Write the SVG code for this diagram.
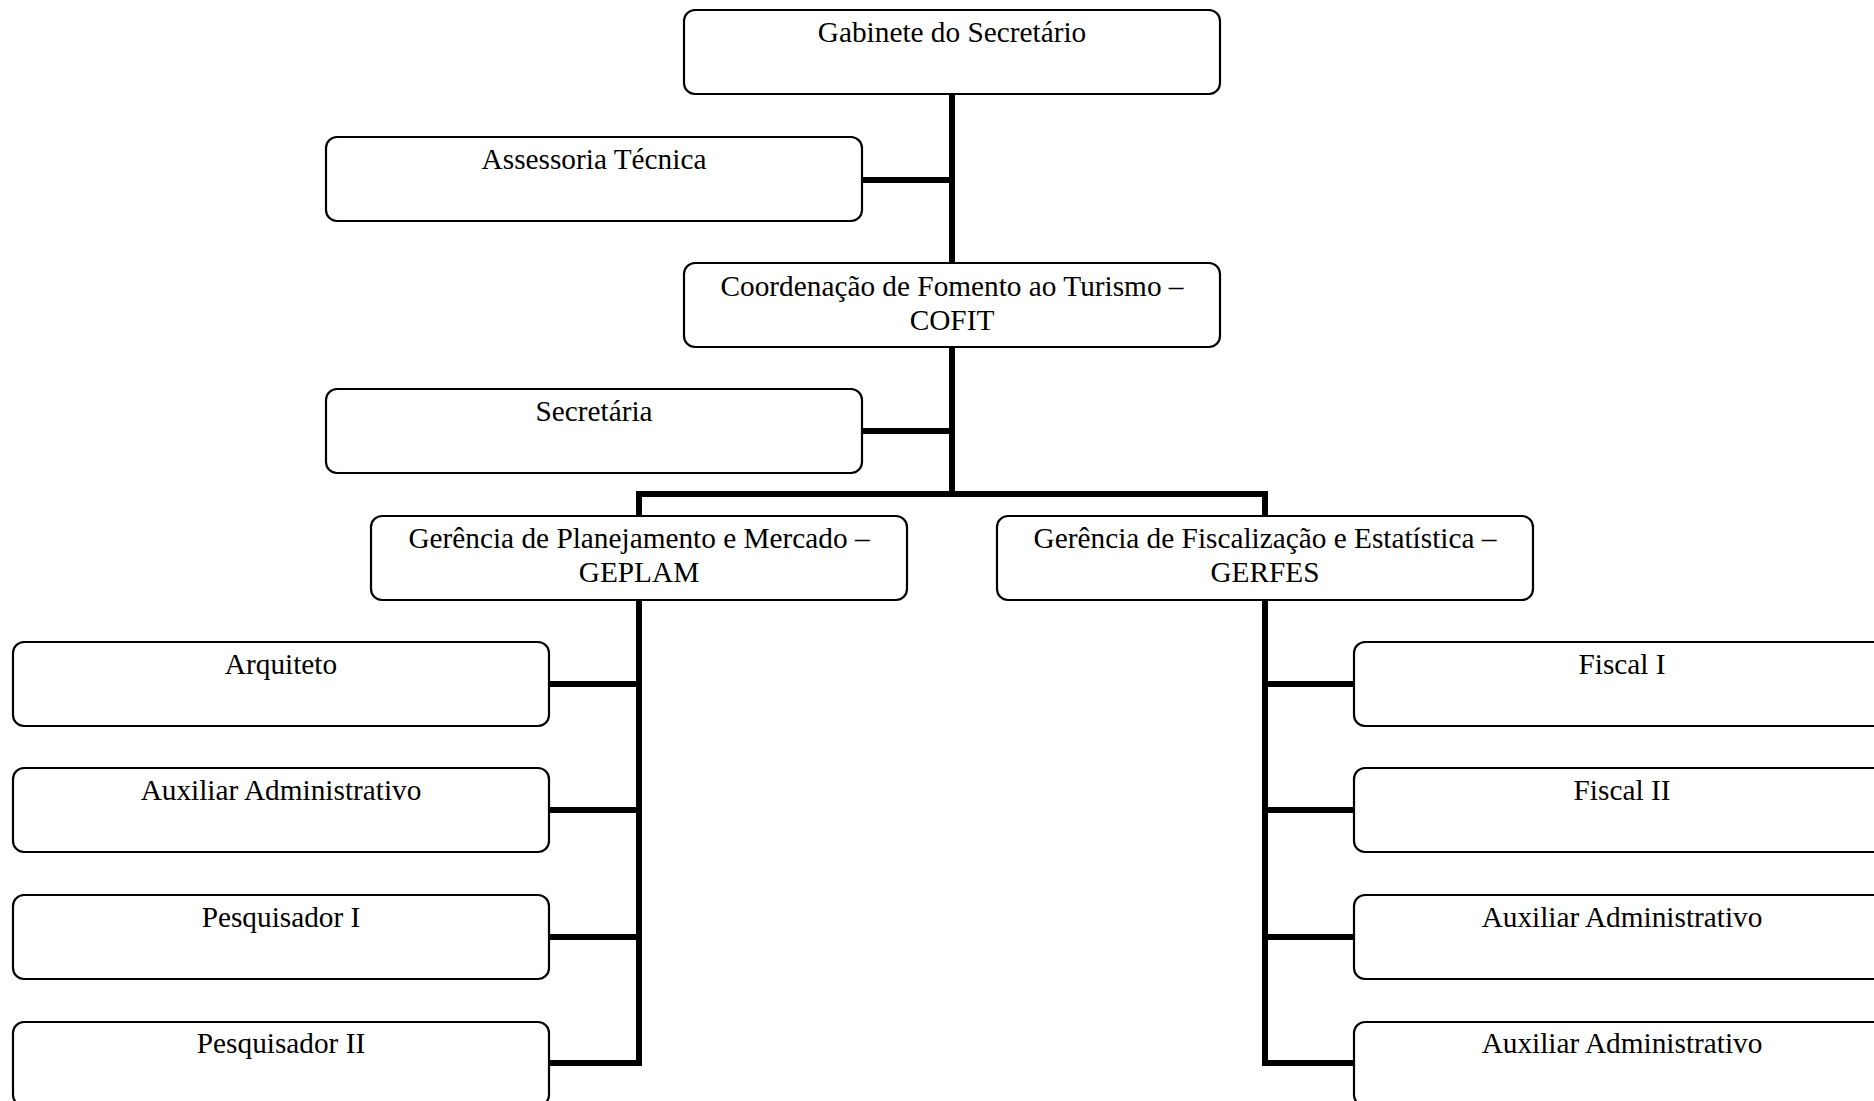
<svg xmlns="http://www.w3.org/2000/svg" width="1874" height="1101" viewBox="0 0 1874 1101">
<style>
.box{fill:#fff;stroke:#000;stroke-width:2.2}
.t{font-family:"Liberation Serif","Times New Roman",serif;font-size:29.3px;fill:#000;text-anchor:middle}
.c{stroke:#000;stroke-width:6;fill:none}
</style>
<rect width="1874" height="1101" fill="#fff"/>
<g id="connectors">
<line class="c" x1="952" y1="94" x2="952" y2="263"/>
<line class="c" x1="862" y1="180" x2="952" y2="180"/>
<line class="c" x1="952" y1="347" x2="952" y2="494"/>
<line class="c" x1="862" y1="431" x2="952" y2="431"/>
<polyline class="c" points="639,516 639,494 1265,494 1265,516"/>
<polyline class="c" points="639,600 639,1063 550,1063"/>
<line class="c" x1="550" y1="684" x2="639" y2="684"/>
<line class="c" x1="550" y1="810" x2="639" y2="810"/>
<line class="c" x1="550" y1="937" x2="639" y2="937"/>
<polyline class="c" points="1265,600 1265,1063 1354,1063"/>
<line class="c" x1="1265" y1="684" x2="1354" y2="684"/>
<line class="c" x1="1265" y1="810" x2="1354" y2="810"/>
<line class="c" x1="1265" y1="937" x2="1354" y2="937"/>
</g>
<g id="gabinete"><rect class="box" x="684" y="10" width="536" height="84" rx="11"/><text class="t" x="952" y="42">Gabinete do Secretário</text></g>
<g id="assessoria"><rect class="box" x="326" y="137" width="536" height="84" rx="11"/><text class="t" x="594" y="169">Assessoria Técnica</text></g>
<g id="cofit"><rect class="box" x="684" y="263" width="536" height="84" rx="11"/><text class="t" x="952" y="296">Coordenação de Fomento ao Turismo –</text><text class="t" x="952" y="330">COFIT</text></g>
<g id="secretaria"><rect class="box" x="326" y="389" width="536" height="84" rx="11"/><text class="t" x="594" y="421">Secretária</text></g>
<g id="geplam"><rect class="box" x="371" y="516" width="536" height="84" rx="11"/><text class="t" x="639" y="548">Gerência de Planejamento e Mercado –</text><text class="t" x="639" y="582">GEPLAM</text></g>
<g id="gerfes"><rect class="box" x="997" y="516" width="536" height="84" rx="11"/><text class="t" x="1265" y="548">Gerência de Fiscalização e Estatística –</text><text class="t" x="1265" y="582">GERFES</text></g>
<g id="arquiteto"><rect class="box" x="13" y="642" width="536" height="84" rx="11"/><text class="t" x="281" y="674">Arquiteto</text></g>
<g id="aux1"><rect class="box" x="13" y="768" width="536" height="84" rx="11"/><text class="t" x="281" y="800">Auxiliar Administrativo</text></g>
<g id="pesq1"><rect class="box" x="13" y="895" width="536" height="84" rx="11"/><text class="t" x="281" y="927">Pesquisador I</text></g>
<g id="pesq2"><rect class="box" x="13" y="1022" width="536" height="84" rx="11"/><text class="t" x="281" y="1053">Pesquisador II</text></g>
<g id="fiscal1"><rect class="box" x="1354" y="642" width="536" height="84" rx="11"/><text class="t" x="1622" y="674">Fiscal I</text></g>
<g id="fiscal2"><rect class="box" x="1354" y="768" width="536" height="84" rx="11"/><text class="t" x="1622" y="800">Fiscal II</text></g>
<g id="aux2"><rect class="box" x="1354" y="895" width="536" height="84" rx="11"/><text class="t" x="1622" y="927">Auxiliar Administrativo</text></g>
<g id="aux3"><rect class="box" x="1354" y="1022" width="536" height="84" rx="11"/><text class="t" x="1622" y="1053">Auxiliar Administrativo</text></g>
</svg>
